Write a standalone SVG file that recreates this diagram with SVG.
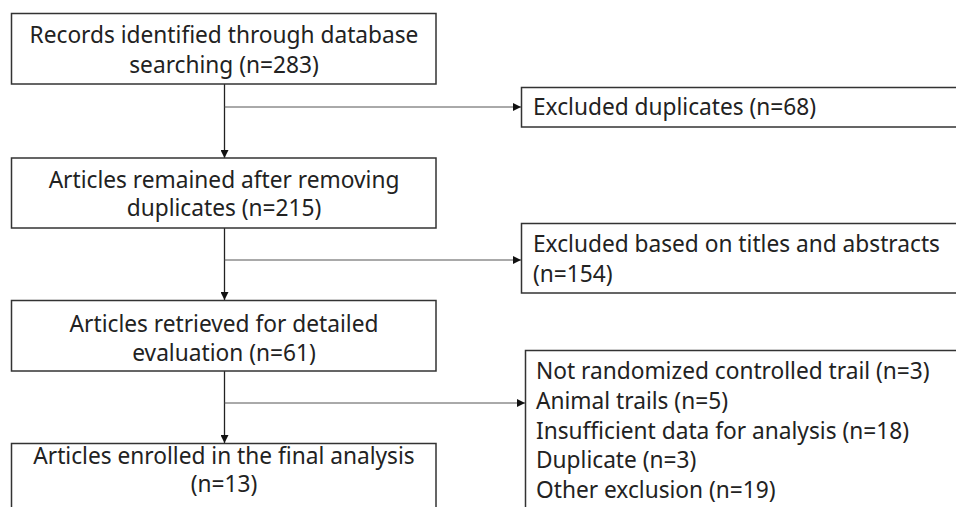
<svg xmlns="http://www.w3.org/2000/svg" width="956" height="507" viewBox="0 0 956 507">
<defs>
<style>
.box{fill:#fff;stroke:#333;stroke-width:1.5}
.t{font-family:"Noto Sans","Open Sans","Liberation Sans",sans-serif;font-size:22.7px;fill:#222}
.c{text-anchor:middle}
.ln{stroke:#222;stroke-width:1.3;fill:none}
.br{stroke:#555;stroke-width:1;fill:none}
</style>
<marker id="ah" viewBox="0 0 10 10" refX="10" refY="5" markerWidth="8" markerHeight="8" markerUnits="userSpaceOnUse" orient="auto">
<path d="M0,0 L10,5 L0,10 z" fill="#111"/>
</marker>
</defs>
<rect width="956" height="507" fill="#fff"/>
<g id="connectors">
<line class="ln" x1="224.5" y1="84" x2="224.5" y2="158" marker-end="url(#ah)"/>
<line class="br" x1="224.5" y1="107" x2="521" y2="107" marker-end="url(#ah)"/>
<line class="ln" x1="224.5" y1="228" x2="224.5" y2="300" marker-end="url(#ah)"/>
<line class="br" x1="224.5" y1="260" x2="521" y2="260" marker-end="url(#ah)"/>
<line class="ln" x1="224.5" y1="371" x2="224.5" y2="443" marker-end="url(#ah)"/>
<line class="br" x1="224.5" y1="403" x2="525" y2="403" marker-end="url(#ah)"/>
</g>
<g id="n1">
<rect class="box" x="11.5" y="13.5" width="424.5" height="70.5"/>
<text class="t c" x="224" y="43">Records identified through database</text>
<text class="t c" x="224" y="73">searching (n=283)</text>
</g>
<g id="n2">
<rect class="box" x="11.5" y="158" width="424.5" height="70"/>
<text class="t c" x="224" y="188">Articles remained after removing</text>
<text class="t c" x="224" y="216">duplicates (n=215)</text>
</g>
<g id="n3">
<rect class="box" x="11.5" y="300.5" width="424.5" height="70.5"/>
<text class="t c" x="224" y="332">Articles retrieved for detailed</text>
<text class="t c" x="224" y="361">evaluation (n=61)</text>
</g>
<g id="n4">
<rect class="box" x="11.5" y="443.5" width="424.5" height="80"/>
<text class="t c" x="224" y="464">Articles enrolled in the final analysis</text>
<text class="t c" x="224" y="492">(n=13)</text>
</g>
<g id="r1">
<rect class="box" x="521.5" y="87.5" width="450" height="39.5"/>
<text class="t" x="533" y="115">Excluded duplicates (n=68)</text>
</g>
<g id="r2">
<rect class="box" x="521.5" y="223.5" width="450" height="69.5"/>
<text class="t" x="533" y="252">Excluded based on titles and abstracts</text>
<text class="t" x="533" y="282">(n=154)</text>
</g>
<g id="r3">
<rect class="box" x="525.5" y="350.5" width="450" height="180"/>
<text class="t" x="536" y="379">Not randomized controlled trail (n=3)</text>
<text class="t" x="536" y="409">Animal trails (n=5)</text>
<text class="t" x="536" y="439">Insufficient data for analysis (n=18)</text>
<text class="t" x="536" y="468">Duplicate (n=3)</text>
<text class="t" x="536" y="498">Other exclusion (n=19)</text>
</g>
</svg>
